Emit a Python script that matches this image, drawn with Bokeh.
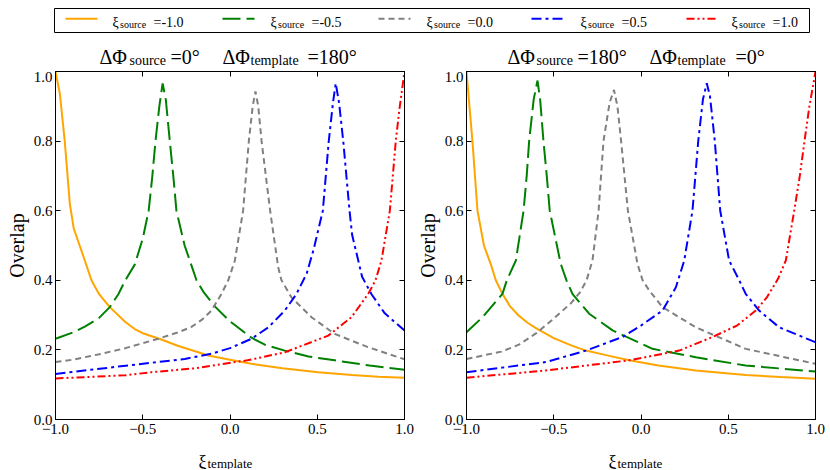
import math
from bokeh.plotting import figure
from bokeh.models import Range1d, LinearAxis, FixedTicker, ColumnDataSource
from bokeh.core.properties import value
from bokeh.layouts import column, row
from bokeh.embed import file_html
from bokeh.resources import INLINE

FONT = "Liberation Serif"

# ---------------- data ----------------
xi_source = [-1.0, -0.5, 0.0, 0.5, 1.0]
series_colors = ["orange", "green", "gray", "blue", "red"]
series_dashes = ["solid", "18 6", "6 4", "10 4 3 4", "8 3 2 3 2 3"]

x_ticks = [-1.0, -0.5, 0.0, 0.5, 1.0]
x_tick_labels = ["\u22121.0", "\u22120.5", "0.0", "0.5", "1.0"]
y_ticks = [0.0, 0.2, 0.4, 0.6, 0.8, 1.0]
y_tick_labels = ["0.0", "0.2", "0.4", "0.6", "0.8", "1.0"]

# Left panel: dPhi_source = 0 deg, dPhi_template = 180 deg
L_m10_x = [-1.0, -0.975, -0.947, -0.918, -0.895, -0.832, -0.794, -0.75, -0.689, -0.6, -0.546, -0.5,
           -0.393, -0.3, -0.2, -0.125, 0.0, 0.123, 0.3, 0.505, 0.7, 0.85, 1.0]
L_m10_y = [1.0, 0.936, 0.80, 0.62, 0.548, 0.457, 0.40, 0.36, 0.323, 0.28, 0.26, 0.248,
           0.230, 0.212, 0.196, 0.184, 0.172, 0.160, 0.147, 0.136, 0.128, 0.123, 0.120]
L_m05_x = [-1.0, -0.9, -0.832, -0.75, -0.689, -0.64, -0.6, -0.546, -0.5, -0.466, -0.445, -0.427, -0.405,
           -0.386, -0.368, -0.345, -0.325, -0.307, -0.26, -0.221, -0.192, -0.15, -0.087, 0.0, 0.123,
           0.2, 0.314, 0.45, 0.6, 0.8, 1.0]
L_m05_y = [0.232, 0.250, 0.267, 0.292, 0.323, 0.36, 0.40, 0.445, 0.52, 0.60, 0.70, 0.80, 0.90,
           0.966, 0.92, 0.80, 0.70, 0.60, 0.50, 0.443, 0.40, 0.365, 0.325, 0.282, 0.235,
           0.215, 0.198, 0.181, 0.170, 0.155, 0.143]
L_00_x = [-1.0, -0.9, -0.736, -0.6, -0.411, -0.3, -0.221, -0.16, -0.106, -0.05, -0.01, 0.028, 0.075,
          0.108, 0.13, 0.146, 0.162, 0.181, 0.23, 0.276, 0.295, 0.352, 0.467, 0.6, 0.79, 1.0]
L_00_y = [0.165, 0.172, 0.189, 0.205, 0.232, 0.250, 0.266, 0.287, 0.313, 0.36, 0.40, 0.457, 0.60,
          0.80, 0.90, 0.943, 0.90, 0.80, 0.60, 0.438, 0.40, 0.351, 0.294, 0.246, 0.208, 0.173]
L_05_x = [-1.0, -0.64, -0.259, -0.106, 0.0, 0.123, 0.22, 0.314, 0.38, 0.44, 0.48, 0.532, 0.566, 0.59,
          0.606, 0.625, 0.649, 0.685, 0.70, 0.735, 0.757, 0.811, 0.887, 1.0]
L_05_y = [0.131, 0.152, 0.174, 0.189, 0.205, 0.232, 0.265, 0.313, 0.36, 0.42, 0.49, 0.60, 0.80, 0.91,
          0.966, 0.91, 0.80, 0.60, 0.53, 0.457, 0.41, 0.36, 0.305, 0.256]
L_10_x = [-1.0, -0.6, -0.45, -0.2, 0.028, 0.1, 0.314, 0.563, 0.696, 0.792, 0.834, 0.868, 0.916, 0.95,
          0.97, 1.0]
L_10_y = [0.118, 0.127, 0.136, 0.147, 0.165, 0.170, 0.193, 0.241, 0.294, 0.361, 0.40, 0.457, 0.60, 0.80,
          0.888, 1.0]

# Right panel: dPhi_source = 180 deg, dPhi_template = 0 deg
R_m10_x = [-1.0, -0.983, -0.966, -0.937, -0.9, -0.86, -0.832, -0.794, -0.75, -0.7, -0.65, -0.6, -0.5,
           -0.4, -0.316, -0.2, -0.068, 0.1, 0.314, 0.6, 0.8, 1.0]
R_m10_y = [1.0, 0.90, 0.80, 0.60, 0.50, 0.445, 0.40, 0.361, 0.325, 0.298, 0.278, 0.262, 0.234,
           0.213, 0.198, 0.185, 0.170, 0.155, 0.141, 0.128, 0.122, 0.117]
R_m05_x = [-1.0, -0.908, -0.794, -0.769, -0.717, -0.673, -0.655, -0.641, -0.615, -0.593, -0.578, -0.559,
           -0.54, -0.523, -0.46, -0.427, -0.393, -0.297, -0.163, 0.066, 0.314, 0.6, 1.0]
R_m05_y = [0.251, 0.294, 0.361, 0.40, 0.457, 0.60, 0.70, 0.80, 0.92, 0.974, 0.92, 0.80,
           0.70, 0.60, 0.447, 0.40, 0.361, 0.304, 0.256, 0.203, 0.179, 0.155, 0.138]
R_00_x = [-1.0, -0.8, -0.7, -0.6, -0.5, -0.4, -0.35, -0.312, -0.278, -0.243, -0.215, -0.18, -0.155,
          -0.135, -0.114, -0.075, -0.02, 0.009, 0.047, 0.123, 0.314, 0.6, 1.0]
R_00_y = [0.174, 0.195, 0.215, 0.248, 0.29, 0.335, 0.365, 0.40, 0.457, 0.60, 0.80, 0.91, 0.947,
          0.90, 0.80, 0.60, 0.447, 0.40, 0.371, 0.323, 0.265, 0.203, 0.160]
R_05_x = [-1.0, -0.545, -0.316, -0.106, 0.0, 0.123, 0.2, 0.248, 0.295, 0.328, 0.355, 0.377, 0.395,
          0.423, 0.454, 0.505, 0.563, 0.60, 0.677, 0.792, 1.0]
R_05_y = [0.136, 0.165, 0.198, 0.237, 0.27, 0.313, 0.38, 0.457, 0.60, 0.80, 0.92, 0.966, 0.93,
          0.80, 0.60, 0.457, 0.40, 0.361, 0.313, 0.265, 0.222]
R_10_x = [-1.0, -0.545, -0.068, 0.219, 0.41, 0.55, 0.658, 0.72, 0.786, 0.83, 0.878, 0.91, 0.937,
          0.965, 1.0]
R_10_y = [0.12, 0.141, 0.170, 0.198, 0.237, 0.27, 0.313, 0.35, 0.405, 0.457, 0.60, 0.70, 0.80,
          0.90, 1.0]

left_series = [(L_m10_x, L_m10_y), (L_m05_x, L_m05_y), (L_00_x, L_00_y), (L_05_x, L_05_y), (L_10_x, L_10_y)]
right_series = [(R_m10_x, R_m10_y), (R_m05_x, R_m05_y), (R_00_x, R_00_y), (R_05_x, R_05_y), (R_10_x, R_10_y)]

left_title = [("\u0394\u03a6", "source", "=0\u00b0"), ("\u0394\u03a6", "template", "=180\u00b0")]
right_title = [("\u0394\u03a6", "source", "=180\u00b0"), ("\u0394\u03a6", "template", "=0\u00b0")]

W = 830
BOX_L, BOX_R = 54, 809          # legend box / strip frame in page px
BOX_W = BOX_R - BOX_L
PANEL_BOTTOM = 24               # page y 419..443 holds the tick labels


def common(p):
    p.background_fill_color = "white"
    p.border_fill_color = "white"


def hstrip(height, top=0, bottom=0, outline=None):
    """Full-width strip; frame spans page x 54..809, data x = page px - 54, data y = px from frame bottom."""
    p = figure(frame_width=BOX_W, frame_height=height,
               x_range=Range1d(0, BOX_W), y_range=Range1d(0, height),
               x_axis_type=None, y_axis_type=None, title=None,
               toolbar_location=None, output_backend="svg",
               min_border_left=BOX_L, min_border_right=W - BOX_R,
               min_border_top=top, min_border_bottom=bottom)
    p.outline_line_color = outline
    p.outline_line_width = 1
    common(p)
    return p


def vstrip(width):
    """Y-label strip, same vertical borders as the panels (frame = page y 71..419)."""
    p = figure(frame_width=width, frame_height=348,
               x_range=Range1d(0, width), y_range=Range1d(0, 348),
               x_axis_type=None, y_axis_type=None, title=None,
               toolbar_location=None, output_backend="svg",
               min_border_left=0, min_border_right=0, min_border_top=0, min_border_bottom=PANEL_BOTTOM)
    p.outline_line_color = None
    common(p)
    return p


def add_texts(p, xs, ys, texts, size, align="left", baseline="alphabetic", angle=0.0):
    src = ColumnDataSource(dict(x=xs, y=ys, text=texts))
    p.text(x="x", y="y", text="text", source=src, text_font=value(FONT), text_font_size=value(size),
           text_color="black", text_align=align, text_baseline=baseline, angle=angle)


def style_axis(ax, labels, font_size="15px", standoff=3):
    ax.major_tick_in = 5
    ax.major_tick_out = 0
    ax.minor_tick_in = 0
    ax.minor_tick_out = 0
    ax.axis_line_color = "black"
    ax.axis_line_width = 1
    ax.major_tick_line_color = "black"
    ax.major_tick_line_width = 1
    ax.major_label_text_font = FONT
    ax.major_label_text_font_size = font_size
    ax.major_label_text_color = "black"
    ax.major_label_standoff = standoff
    ax.major_label_overrides = labels


def make_panel(series, border_left, border_right):
    p = figure(frame_width=349, frame_height=348,
               x_range=Range1d(-1.0, 1.0), y_range=Range1d(0.0, 1.0),
               x_axis_type=None, y_axis_type=None, title=None,
               toolbar_location=None, output_backend="svg",
               min_border_left=border_left, min_border_right=border_right,
               min_border_top=0, min_border_bottom=PANEL_BOTTOM)
    common(p)
    p.outline_line_color = "black"
    p.outline_line_width = 1

    xlab = {t: l for t, l in zip(x_ticks, x_tick_labels)}
    ylab = {t: l for t, l in zip(y_ticks, y_tick_labels)}
    empty_x = {t: "" for t in x_ticks}
    empty_y = {t: "" for t in y_ticks}

    bx = LinearAxis(ticker=FixedTicker(ticks=x_ticks))
    style_axis(bx, xlab, standoff=4)
    p.add_layout(bx, "below")
    tx = LinearAxis(ticker=FixedTicker(ticks=x_ticks))
    style_axis(tx, empty_x, font_size="0px", standoff=0)
    p.add_layout(tx, "above")
    lyax = LinearAxis(ticker=FixedTicker(ticks=y_ticks))
    style_axis(lyax, ylab, standoff=3)
    p.add_layout(lyax, "left")
    ry = LinearAxis(ticker=FixedTicker(ticks=y_ticks))
    style_axis(ry, empty_y, font_size="0px", standoff=0)
    p.add_layout(ry, "right")

    for (xs, ys), c, d in zip(series, series_colors, series_dashes):
        p.line(xs, ys, line_color=c, line_width=2, line_dash=d)
    return p


# ---------------- legend (page y 0..36, box 54..809 x 8..32) ----------------
leg = hstrip(24, top=8, bottom=4, outline="black")
sample_starts = [65, 222, 378, 531, 686]
text_starts = [112, 270, 426, 580, 731]
for c, d, s0 in zip(series_colors, series_dashes, sample_starts):
    leg.line([s0 - BOX_L, s0 - BOX_L + 32], [32 - 18.3, 32 - 18.3], line_color=c, line_width=2, line_dash=d)
add_texts(leg, [t - BOX_L for t in text_starts], [32 - 21.7] * 5, ["\u03be"] * 5, "14px")
add_texts(leg, [t - BOX_L + 7.5 for t in text_starts], [32 - 24.0] * 5, ["source"] * 5, "10px")
add_texts(leg, [t - BOX_L + 41 for t in text_starts], [32 - 21.7] * 5, ["=%.1f" % v for v in xi_source], "14px")

# ---------------- panel titles (page y 36..71) ----------------
tit = hstrip(35)
title_positions = [(left_title, [(99, 129, 170), (222, 250, 307)]),
                   (right_title, [(507, 536, 577), (649, 677, 735)])]
big_x, big_t, sub_x, sub_t = [], [], [], []
for title, poss in title_positions:
    for (big, sub, tail), (p_big, p_sub, p_tail) in zip(title, poss):
        big_x += [p_big - BOX_L, p_tail - BOX_L]
        big_t += [big, tail]
        sub_x.append(p_sub - BOX_L)
        sub_t.append(sub)
add_texts(tit, big_x, [71 - 56.7] * len(big_x), big_t, "20px")
add_texts(tit, sub_x, [71 - 60.0] * len(sub_x), sub_t, "14px")

# ---------------- y label strips + panels (page y 71..443) ----------------
ylab_left = vstrip(30)                      # page x 0..30
add_texts(ylab_left, [16.0], [419 - 245], ["Overlap"], "20px", align="center", baseline="middle",
          angle=math.pi / 2)
p_left = make_panel(left_series, 24, 12)    # page x 30..415, frame 54..403
ylab_right = vstrip(25)                     # page x 415..440
add_texts(ylab_right, [426.5 - 415], [419 - 245], ["Overlap"], "20px", align="center", baseline="middle",
          angle=math.pi / 2)
p_right = make_panel(right_series, 24, W - 440 - 24 - 349)   # page x 440..830, frame 464..813

# ---------------- x label strip (page y 443..469) ----------------
XL_TOP, XL_H = 419 + PANEL_BOTTOM, 26
xl = hstrip(XL_H)
xl_bottom = XL_TOP + XL_H
add_texts(xl, [198 - BOX_L, 608 - BOX_L], [xl_bottom - 461.5] * 2, ["\u03be"] * 2, "18px")
add_texts(xl, [207 - BOX_L, 617 - BOX_L], [xl_bottom - 463.0] * 2, ["template"] * 2, "13px")

layout = column(leg, tit, row(ylab_left, p_left, ylab_right, p_right), xl)

open("out.html", "w").write(file_html(layout, INLINE))
